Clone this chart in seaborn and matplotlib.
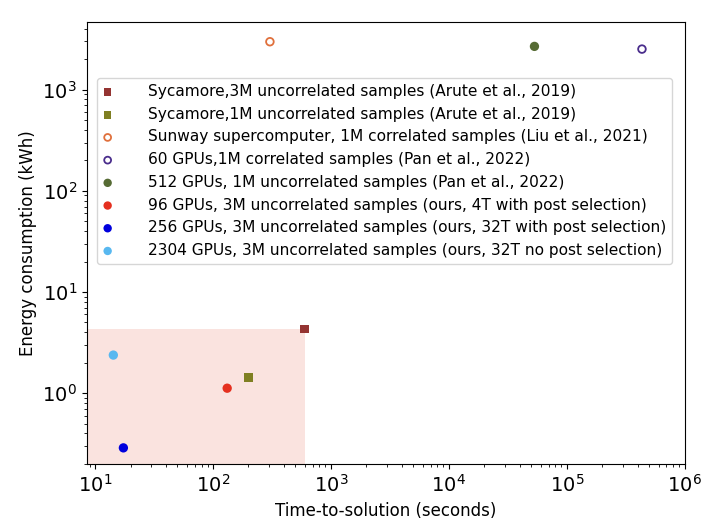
import numpy as np
import pandas as pd
import matplotlib
matplotlib.use('Agg')
import matplotlib.pyplot as plt
import seaborn as sns

########### Data ###############################
labels = ['Sycamore,3M uncorrelated samples (Arute et al., 2019)',
          'Sycamore,1M uncorrelated samples (Arute et al., 2019)',
          'Sunway supercomputer, 1M correlated samples (Liu et al., 2021)',
          '60 GPUs,1M correlated samples (Pan et al., 2022)',
          '512 GPUs, 1M uncorrelated samples (Pan et al., 2022)',
          '96 GPUs, 3M uncorrelated samples (ours, 4T with post selection)',
          '256 GPUs, 3M uncorrelated samples (ours, 32T with post selection)',
          '2304 GPUs, 3M uncorrelated samples (ours, 32T no post selection)']
time_s = [600, 200, 304, 4.34e5, 5.32e4, 132, 17.4, 14.3]
energy_kwh = [4.3, 1.43, 2980, 2520, 2680, 1.12, 0.288, 2.38]

colores = ['#943432', '#7f7f22', '#e0703c', '#4a2d8c', '#566b34', '#e5301f', '#0000dd', '#58b8f0']
marcadores = ['s', 's', 'o', 'o', 'o', 'o', 'o', 'o']
huecos = [False, False, True, True, False, False, False, False]

df = pd.DataFrame({'t': time_s, 'e': energy_kwh, 'label': labels})

############ Figure ############
fig, ax = plt.subplots(figsize=(7.2, 5.28), dpi=100)
fig.subplots_adjust(left=0.1204, right=0.951, top=0.958, bottom=0.1206)

xlo, xhi = 8.5, 1e6
ylo, yhi = 0.198, 4650

# shaded region up to the Sycamore 3M point
ax.fill_between([xlo, df.t[0]], ylo, df.e[0], color='#fae3df', lw=0, zorder=0)

for i, row in df.iterrows():
    if huecos[i]:
        sns.scatterplot(x=[row.t], y=[row.e], ax=ax, marker=marcadores[i], s=30,
                        color=colores[i], facecolor='none', edgecolor=colores[i],
                        linewidth=1.3, label=row.label, zorder=3)
    else:
        sns.scatterplot(x=[row.t], y=[row.e], ax=ax, marker=marcadores[i],
                        s=38 if marcadores[i] == 's' else 45,
                        color=colores[i], edgecolor='none', label=row.label, zorder=3)

ax.set_xscale('log')
ax.set_yscale('log')
ax.set_xlim(xlo, xhi)
ax.set_ylim(ylo, yhi)
ax.tick_params(axis='both', which='major', labelsize=14)
ax.set_xlabel('Time-to-solution (seconds)', fontsize=12)
ax.set_ylabel('Energy consumption (kWh)', fontsize=12)

ax.legend(loc='upper left', bbox_to_anchor=(0.017, 0.874), borderaxespad=0,
          fontsize=11.1, markerscale=0.9, handlelength=0.6, handletextpad=2.3,
          borderpad=0.4, labelspacing=0.5)

plt.savefig('out.png', dpi=100)
